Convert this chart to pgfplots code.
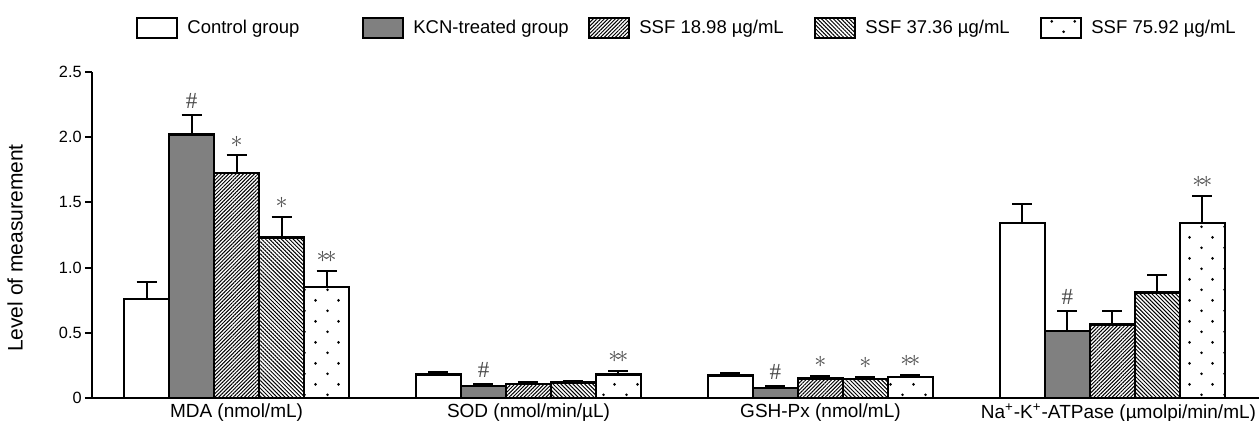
\documentclass[border=0pt]{standalone}
\usepackage{fontspec}
\setmainfont{Liberation Sans}
\newfontfamily\serifann{Liberation Serif}
\usepackage{pgfplots}
\pgfplotsset{compat=1.18}
\usetikzlibrary{patterns,patterns.meta}

\tikzdeclarepattern{
  name=sdots,
  type=uncolored,
  bottom left={(0pt,0pt)},
  top right={(11.5pt,10.7pt)},
  tile size={(11.5pt,10.7pt)},
  code={
    \fill (2.875pt,2.675pt) circle (0.75pt);
    \fill (8.625pt,8.025pt) circle (0.75pt);
  }
}

\pgfplotsset{
  mylegend/.style={legend image code/.code={\draw[##1,line width=1.2pt] (0pt,-5pt) rectangle (20pt,5pt);}}
}
\tikzset{ann/.style={font=\fontsize{11.5}{12}\selectfont, text=black!70, inner sep=0pt, anchor=center, yshift=7pt}}

\begin{document}
\begin{tikzpicture}
\begin{axis}[
  scale only axis, width=583.5pt, height=163pt,
  xmin=-0.495, xmax=3.502, ymin=0, ymax=2.5,
  ybar=0pt, bar width=22.5pt,
  axis x line*=bottom, axis y line*=left,
  axis line style={line width=1pt, black},
  xtick={0,1,2,3},
  xticklabels={MDA (nmol/mL), SOD (nmol/min/µL), GSH-Px (nmol/mL), \hspace*{6pt}Na\textsuperscript{+}-K\textsuperscript{+}-ATPase (µmolpi/min/mL)},
  x tick label style={font=\fontsize{9.5}{11}\selectfont, anchor=north, inner sep=0pt, yshift=1pt},
  xtick style={draw=none},
  ytick={0,0.5,1,1.5,2,2.5},
  yticklabels={0,0.5,1.0,1.5,2.0,2.5},
  y tick label style={font=\fontsize{8.15}{10}\selectfont, inner sep=0pt, xshift=-1.5pt},
  ytick style={line width=1pt, black},
  tick align=outside, major tick length=3.5pt,
  ylabel={Level of measurement},
  every axis y label/.style={at={([xshift=-38.5pt]axis description cs:0,0.46)}, rotate=90, anchor=center, font=\fontsize{10.5}{12}\selectfont},
  legend columns=5,
  legend cell align=left,
  legend style={draw=none, fill=none, inner sep=0pt, outer sep=0pt,
    at={(axis description cs:0,1)}, anchor=west, xshift=22pt, yshift=22pt,
    font=\fontsize{9.25}{11}\selectfont,
    /tikz/column sep=0pt,
    nodes={inner sep=0pt}},
  every axis plot post/.append style={mylegend},
  error bars/y dir=plus, error bars/y explicit,
  error bars/error bar style={line width=1pt, black},
  error bars/error mark options={rotate=90, line width=1pt, mark size=5pt, black},
]
\addplot[draw=black, line width=1.3pt, fill=white] coordinates {
  (0,0.76) +- (0,0.13)
  (1,0.18) +- (0,0.02)
  (2,0.174) +- (0,0.016)
  (3,1.343) +- (0,0.147)};
\addlegendentry{\hspace*{4.5pt}\makebox[87.3pt][l]{Control group}}
\addplot[draw=black, line width=1.3pt, fill=gray] coordinates {
  (0,2.02) +- (0,0.15)
  (1,0.092) +- (0,0.015)
  (2,0.077) +- (0,0.018)
  (3,0.513) +- (0,0.154)};
\addlegendentry{\hspace*{4.5pt}\makebox[87.3pt][l]{KCN-treated group}}
\addplot[draw=black, line width=1.3pt, fill=white, postaction={pattern={Lines[angle=45,distance=1.3pt,line width=0.5pt]}}] coordinates {
  (0,1.725) +- (0,0.135)
  (1,0.107) +- (0,0.013)
  (2,0.151) +- (0,0.019)
  (3,0.565) +- (0,0.10)};
\addlegendentry{\hspace*{4.5pt}\makebox[87.3pt][l]{SSF 18.98 µg/mL}}
\addplot[draw=black, line width=1.3pt, fill=white, postaction={pattern={Lines[angle=-45,distance=1.4pt,line width=0.5pt]}}] coordinates {
  (0,1.23) +- (0,0.16)
  (1,0.12) +- (0,0.01)
  (2,0.146) +- (0,0.014)
  (3,0.807) +- (0,0.133)};
\addlegendentry{\hspace*{4.5pt}\makebox[87.3pt][l]{SSF 37.36 µg/mL}}
\addplot[draw=black, line width=1.3pt, fill=white, postaction={pattern=sdots}] coordinates {
  (0,0.85) +- (0,0.125)
  (1,0.18) +- (0,0.025)
  (2,0.16) +- (0,0.02)
  (3,1.343) +- (0,0.207)};
\addlegendentry{\hspace*{4.5pt}\makebox[87.3pt][l]{SSF 75.92 µg/mL}}

\node[ann] at (axis cs:-0.1541,2.17) {\serifann\#};
\node[ann] at (axis cs:0,1.86) {$\ast$};
\node[ann] at (axis cs:0.1541,1.39) {$\ast$};
\node[ann] at (axis cs:0.3082,0.975) {$\ast\!\ast$};
\node[ann] at (axis cs:0.8459,0.107) {\serifann\#};
\node[ann] at (axis cs:1.3082,0.205) {$\ast\!\ast$};
\node[ann] at (axis cs:1.8459,0.095) {\serifann\#};
\node[ann] at (axis cs:2,0.17) {$\ast$};
\node[ann] at (axis cs:2.1541,0.16) {$\ast$};
\node[ann] at (axis cs:2.3082,0.18) {$\ast\!\ast$};
\node[ann] at (axis cs:2.8459,0.667) {\serifann\#};
\node[ann] at (axis cs:3.3082,1.55) {$\ast\!\ast$};

\coordinate (BL) at (rel axis cs:0,0);
\coordinate (TR) at (rel axis cs:1,1);
\end{axis}
\pgfresetboundingbox
\path[use as bounding box] ([shift={(-46pt,-11.5pt)}]BL) rectangle ([shift={(0pt,36pt)}]TR);
\end{tikzpicture}
\end{document}
